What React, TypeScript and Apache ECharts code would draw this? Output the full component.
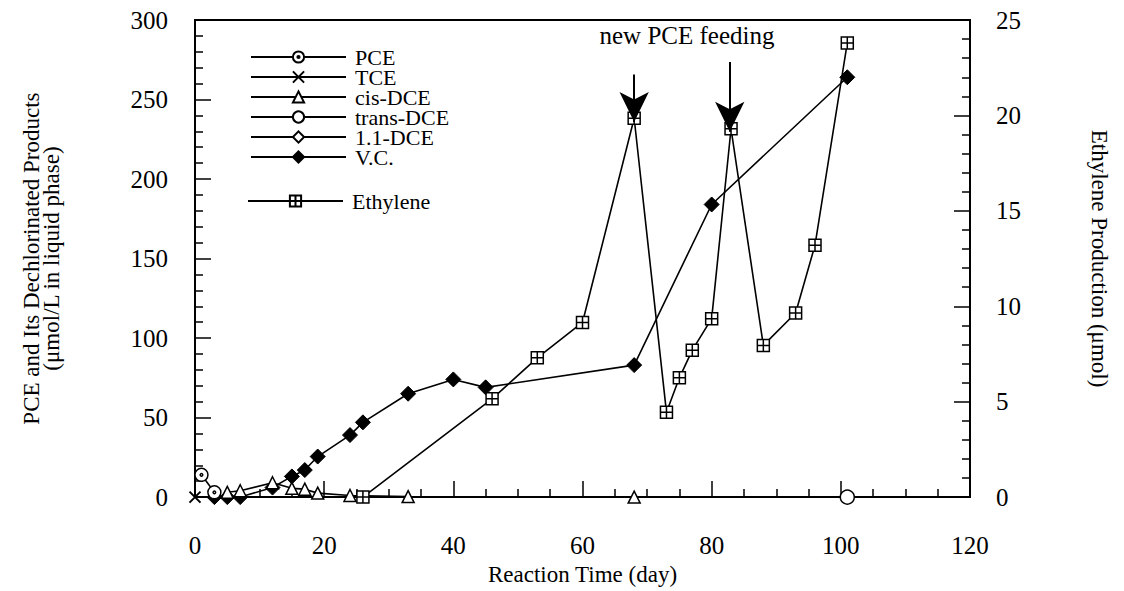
import React, { useEffect, useRef } from "react";
import * as echarts from "echarts";

const FONT = "'Liberation Serif', 'Times New Roman', serif";

// ---- data (day, value) ----
const pceDays = [1, 3];
const pceValues = [14, 3];

const tceDays = [0];
const tceValues = [0];

const cisDays = [5, 7, 12, 15, 17, 19, 24, 33, 68];
const cisValues = [3, 4, 9, 5.5, 5, 2.5, 1, 0.3, 0];

const transDays = [101];
const transValues = [0];

const dce11Days = [3, 5, 7];
const dce11Values = [0, 0, 0];

const vcDays = [3, 5, 7, 12, 15, 17, 19, 24, 26, 33, 40, 45, 68, 80, 101];
const vcValues = [0, 0, 0, 6, 13, 17, 25.5, 39, 47, 65, 74, 69, 83, 184, 264];

const ethDays = [26, 46, 53, 60, 68, 73, 75, 77, 80, 83, 88, 93, 96, 101];
const ethValues = [0, 5.15, 7.3, 9.15, 19.85, 4.45, 6.25, 7.7, 9.35, 19.3, 7.95, 9.65, 13.2, 23.8];

// feeding arrows (day, start value, tip value) on ethylene axis
const arrowDays = [68, 82.8];
const arrowStarts = [22.15, 22.8];
const arrowTips = [19.65, 19.15];

const legendMain = ["PCE", "TCE", "cis-DCE", "trans-DCE", "1.1-DCE", "V.C."];
const legendEth = ["Ethylene"];

const pairs = (xs: number[], ys: number[]) => xs.map((x, i) => [x, ys[i]]);

const PCE_SYMBOL =
  "path://M0 -10 A10 10 0 1 1 0 10 A10 10 0 1 1 0 -10 Z M0 -2 A2 2 0 1 1 0 2 A2 2 0 1 1 0 -2 Z";
const X_SYMBOL = "path://M-10 -10 L10 10 M10 -10 L-10 10";
const BOX_SYMBOL = "path://M-10 -10 L10 -10 L10 10 L-10 10 Z M0 -10 L0 10 M-10 0 L10 0";

export default function App() {
  const ref = useRef<HTMLDivElement>(null);

  useEffect(() => {
    document.body.style.margin = "0";
    const chart = echarts.init(ref.current!, null, { renderer: "svg" });

    const lineStyle = { color: "#000", width: 1.6 };
    const hollow = { color: "#fff", borderColor: "#000", borderWidth: 1.5 };
    const filled = { color: "#000", borderColor: "#000", borderWidth: 1 };

    const mk = (
      name: string,
      data: number[][],
      symbol: string,
      size: number,
      itemStyle: any,
      yAxisIndex = 0,
      extra: any = {}
    ) => ({
      name,
      type: "line",
      data,
      symbol,
      symbolSize: size,
      showSymbol: true,
      yAxisIndex,
      lineStyle,
      itemStyle,
      emphasis: { disabled: true },
      ...extra,
    });

    const axisCommon = (split: number) => ({
      axisLine: { show: true, onZero: false, lineStyle: { color: "#000", width: 2 } },
      axisTick: { show: true, inside: true, length: 16, lineStyle: { color: "#000", width: 1.5 } },
      minorTick: { show: true, splitNumber: split, length: 8, lineStyle: { color: "#000", width: 1.5 } },
      splitLine: { show: false },
      minorSplitLine: { show: false },
      nameTextStyle: { color: "#000", fontFamily: FONT, fontSize: 23, lineHeight: 20 },
    });

    const tickLabel = (margin: number) => ({
      color: "#000",
      fontFamily: FONT,
      fontSize: 25,
      margin,
    });

    const legendText = {
      fontFamily: FONT,
      fontSize: 22,
      color: "#000",
      lineHeight: 20,
      padding: [0, 0, 0, 4],
    };

    const arrowData = arrowDays.map((d, i) => [
      { coord: [d, arrowStarts[i]] },
      { coord: [d, arrowTips[i]] },
    ]);

    chart.setOption({
      animation: false,
      backgroundColor: "#fff",
      grid: {
        left: 195,
        right: 154,
        top: 20,
        bottom: 89,
        show: true,
        borderColor: "#000",
        borderWidth: 2,
        backgroundColor: "transparent",
      },
      legend: [
        {
          orient: "vertical",
          left: 250,
          top: 46,
          padding: 0,
          itemWidth: 95,
          itemHeight: 14,
          itemGap: -2,
          selectedMode: false,
          textStyle: legendText,
          data: legendMain,
        },
        {
          orient: "vertical",
          left: 247,
          top: 190,
          padding: 0,
          itemWidth: 95,
          itemHeight: 14,
          itemGap: 0,
          selectedMode: false,
          textStyle: legendText,
          data: legendEth,
        },
      ],
      xAxis: {
        type: "value",
        min: 0,
        max: 120,
        interval: 20,
        ...axisCommon(4),
        axisLabel: tickLabel(36),
        name: "Reaction Time (day)",
        nameLocation: "middle",
        nameGap: 64,
      },
      yAxis: [
        {
          type: "value",
          position: "left",
          min: 0,
          max: 300,
          interval: 50,
          ...axisCommon(5),
          axisLabel: tickLabel(27),
          name: "PCE and Its Dechlorinated Products\n(μmol/L in liquid phase)",
          nameLocation: "middle",
          nameGap: 134,
        },
        {
          type: "value",
          position: "right",
          min: 0,
          max: 25,
          interval: 5,
          ...axisCommon(5),
          axisLabel: tickLabel(26),
          name: "Ethylene Production (μmol)",
          nameLocation: "middle",
          nameRotate: -90,
          nameGap: 119,
        },
      ],
      graphic: [
        {
          type: "text",
          x: 687,
          y: 35,
          style: {
            text: "new PCE feeding",
            font: `25px ${FONT}`,
            fill: "#000",
            align: "center",
            verticalAlign: "middle",
            textAlign: "center",
            textVerticalAlign: "middle",
          },
        },
      ],
      series: [
        mk("1.1-DCE", pairs(dce11Days, dce11Values), "diamond", 10, hollow),
        mk("V.C.", pairs(vcDays, vcValues), "diamond", 15, filled),
        mk("Ethylene", pairs(ethDays, ethValues), BOX_SYMBOL, 12, hollow, 1, {
          markLine: {
            silent: true,
            symbol: ["none", "arrow"],
            symbolSize: [22, 30],
            label: { show: false },
            lineStyle: { color: "#000", width: 2, type: "solid" },
            emphasis: { disabled: true },
            data: arrowData,
          },
        }),
        mk("cis-DCE", pairs(cisDays, cisValues), "triangle", 12, hollow),
        mk("trans-DCE", pairs(transDays, transValues), "circle", 14, hollow),
        mk("PCE", pairs(pceDays, pceValues), PCE_SYMBOL, 13, hollow),
        mk("TCE", pairs(tceDays, tceValues), X_SYMBOL, 11, { color: "#000", borderColor: "#000", borderWidth: 2 }),
      ],
    });

    return () => chart.dispose();
  }, []);

  return <div ref={ref} style={{ width: 1124, height: 591 }} />;
}
